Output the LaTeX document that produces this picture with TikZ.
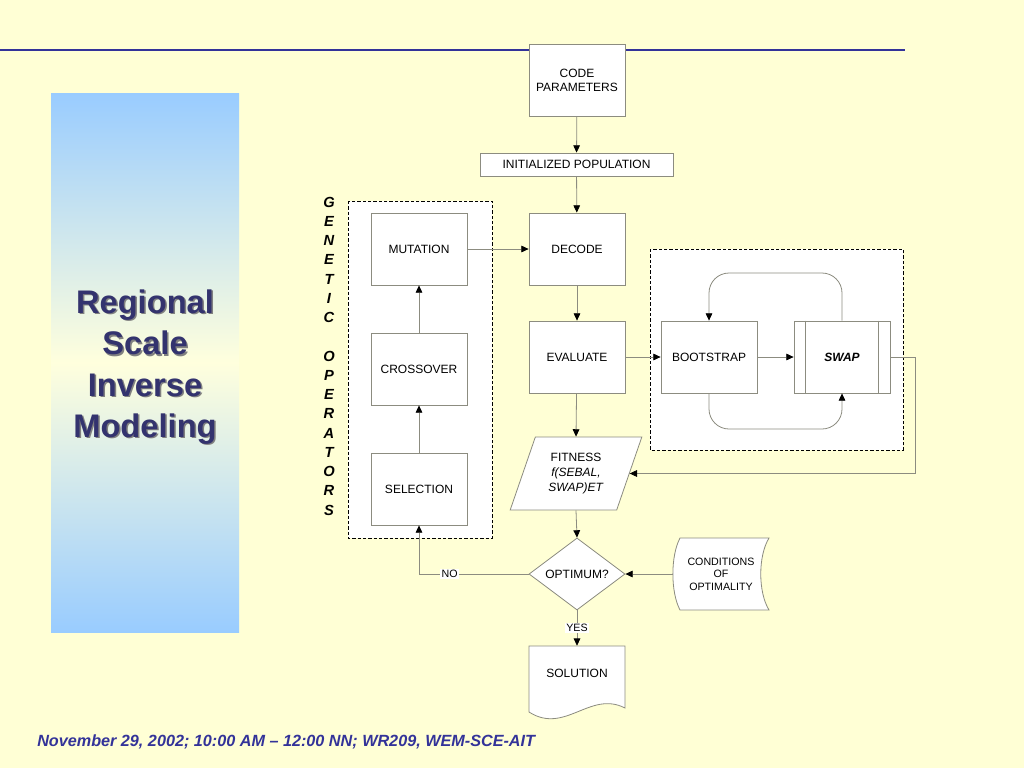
\documentclass[tikz,border=0pt]{standalone}
\usepackage{fontspec}
\setmainfont{Liberation Sans}
\usetikzlibrary{arrows.meta,calc,shapes.geometric}
\definecolor{bg}{RGB}{255,255,213}
\definecolor{panelblue}{RGB}{153,204,255}
\definecolor{panelmid}{RGB}{255,255,221}
\definecolor{navy}{RGB}{51,51,153}
\definecolor{titlecol}{RGB}{51,51,110}
\definecolor{edge}{RGB}{140,140,128}
\begin{document}
\begin{tikzpicture}[x=0.75pt,y=-0.75pt,
  box/.style={draw=edge, fill=white, line width=0.6pt, minimum width=72pt, minimum height=54pt, inner sep=0pt, align=center, font=\fontsize{9}{10.5}\selectfont},
  plain/.style={inner sep=0pt, align=center, font=\fontsize{9}{10.5}\selectfont},
  shapeline/.style={draw=edge, fill=white, line width=0.6pt},
  conn/.style={draw=edge, line width=0.6pt},
  arr/.style={conn, -{Triangle[length=5.5pt,width=5pt,color=black]}},
  gdash/.style={draw=black, fill=white, line width=0.7pt, dash pattern=on 2.5pt off 1.5pt},
  lbl/.style={fill=white, inner sep=1pt, font=\fontsize{8}{9}\selectfont},
  letter/.style={inner sep=0pt, font=\bfseries\itshape\fontsize{11}{12}\selectfont}]
\fill[bg] (0,0) rectangle (1024,768);
\useasboundingbox (0,0) rectangle (1024,768);
% top line
\draw[navy, line width=1.5pt] (0,50) -- (905,50);
% left panel
\shade[top color=panelblue, bottom color=panelblue, middle color=panelmid] (51,93) rectangle (239,632);
\node[align=center, text=black!50, font=\bfseries\fontsize{24.5}{31}\selectfont] (titleshadow) at (146.5,368.5) {Regional\\Scale\\Inverse\\Modeling};
\node[align=center, text=titlecol, font=\bfseries\fontsize{24.5}{31}\selectfont] (title) at (145,367) {Regional\\Scale\\Inverse\\Modeling};
% group boxes
\draw[gdash] (348,201) rectangle (492,538);
\draw[gdash] (650,249) rectangle (903,450);
% genetic operators letters
\foreach \l [count=\i from 0] in {G,E,N,E,T,I,C} {
  \node[letter] (ga\i) at (329,{202+19.25*\i}) {\l};
}
\foreach \l [count=\i from 8] in {O,P,E,R,A,T,O,R,S} {
  \node[letter] (gb\i) at (329,{202+19.25*\i}) {\l};
}
% main column
\node[box] (code) at (577,80) {CODE\\PARAMETERS};
\node[box, minimum width=144.75pt, minimum height=17.25pt] (init) at (576.5,164.5) {INITIALIZED POPULATION};
\node[box] (decode) at (577,249) {DECODE};
\node[box] (eval) at (577,357) {EVALUATE};
\node[trapezium, trapezium left angle=67, trapezium right angle=113, trapezium stretches=true,
      minimum width=99pt, minimum height=54.75pt, inner sep=0pt, draw=edge, fill=white, line width=0.6pt,
      align=center, font=\fontsize{9}{11}\selectfont] (fit) at (576,473.5) {FITNESS\\\textit{f(SEBAL,}\\\textit{SWAP)ET}};
\node[diamond, aspect=1.333, minimum width=72pt, minimum height=54pt, inner sep=0pt, draw=edge, fill=white, line width=0.6pt,
      font=\fontsize{9}{10.5}\selectfont] (opt) at (577,574) {OPTIMUM?};
% solution (document shape)
\node[minimum width=72pt, minimum height=54pt, inner sep=0pt] (sol) at (577,682) {};
\draw[shapeline] (529,646) -- (625,646) -- (625,708) .. controls (590,690) and (565,735) .. (529,712) -- cycle;
\node[plain] (soltext) at (577,673) {SOLUTION};
% conditions of optimality (stored data shape)
\node[minimum width=72pt, minimum height=54pt, inner sep=0pt] (cond) at (721,574) {};
\draw[shapeline] (680,538) -- (769,538) .. controls (758,556) and (758,592) .. (769,610) -- (680,610) .. controls (670.5,592) and (670.5,556) .. (680,538) -- cycle;
\node[plain, font=\fontsize{8}{9.5}\selectfont] (condtext) at (721,574) {CONDITIONS\\OF\\OPTIMALITY};
% genetic operators
\node[box] (mut) at (419,249) {MUTATION};
\node[box] (cross) at (419,369) {CROSSOVER};
\node[box] (sel) at (419,489) {SELECTION};
% bootstrap / swap
\node[box] (boot) at (709,357) {BOOTSTRAP};
\node[box, font=\bfseries\itshape\fontsize{9}{10.5}\selectfont] (swap) at (842,357) {SWAP};
\draw[conn] ($(swap.north west)+(12,0)$) -- ($(swap.south west)+(12,0)$);
\draw[conn] ($(swap.north east)+(-12,0)$) -- ($(swap.south east)+(-12,0)$);
% helper coordinates
\coordinate (loopT) at (0,273);
\coordinate (loopB) at (0,429);
\coordinate (rt) at (915,0);
% connectors
\draw[arr] (code) -- (init);
\draw[arr] (init) -- (decode);
\draw[arr] (decode) -- (eval);
\draw[arr] (eval) -- (fit.north);
\draw[arr] (fit.south) -- (opt.north);
\draw[arr] (opt.south) -- node[lbl, pos=0.5] (yes) {YES} (sol.north);
\draw[arr] (cond.west) -- (opt.east);
\draw[arr] (opt.west) -| node[lbl, pos=0.36] (no) {NO} (sel.south);
\draw[arr] (sel) -- (cross);
\draw[arr] (cross) -- (mut);
\draw[arr] (mut) -- (decode);
\draw[arr] (eval) -- (boot);
\draw[arr] (boot) -- (swap);
\draw[arr, rounded corners=15pt] (swap.north) -- (swap.north |- loopT) -- (boot.north |- loopT) -- (boot.north);
\draw[arr, rounded corners=15pt] (boot.south) -- (boot.south |- loopB) -- (swap.south |- loopB) -- (swap.south);
\draw[arr] (swap.east) -- (swap.east -| rt) -- (rt |- fit.east) -- (fit.east);
% footer
\node[anchor=west, inner sep=0pt, text=navy, font=\bfseries\itshape\fontsize{12.15}{14}\selectfont] (foot) at (37,742) {November 29, 2002; 10:00 AM – 12:00 NN; WR209, WEM-SCE-AIT};
\end{tikzpicture}
\end{document}
